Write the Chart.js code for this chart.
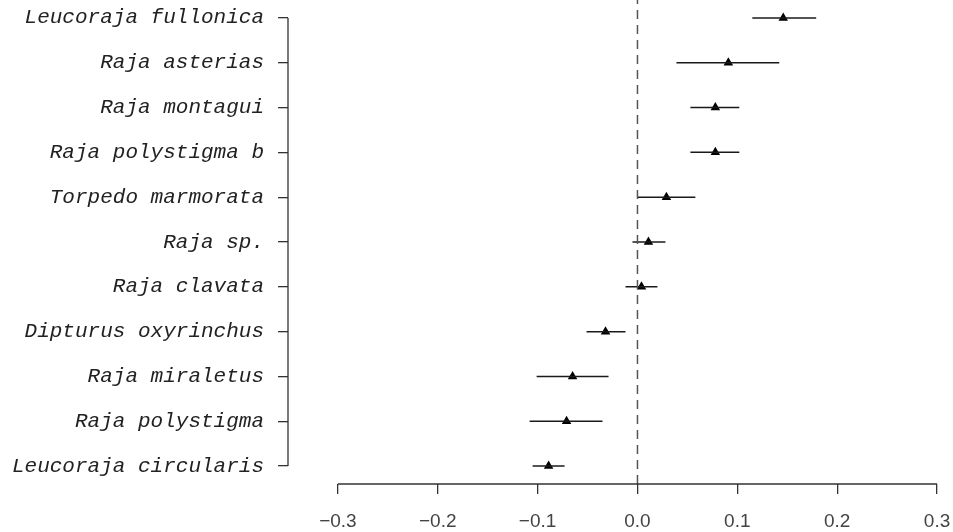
<!DOCTYPE html>
<html>
<head>
<meta charset="utf-8">
<script src="https://cdn.jsdelivr.net/npm/chart.js@4"></script>
<style>
  html, body { margin: 0; padding: 0; background: #fff; }
  #wrap { width: 953px; height: 532px; }
</style>
</head>
<body>
<div id="wrap"><canvas id="chart" width="953" height="532"></canvas></div>
<script>
// species, top to bottom
const species = [
    "Leucoraja fullonica",
    "Raja asterias",
    "Raja montagui",
    "Raja polystigma b",
    "Torpedo marmorata",
    "Raja sp.",
    "Raja clavata",
    "Dipturus oxyrinchus",
    "Raja miraletus",
    "Raja polystigma",
    "Leucoraja circularis",
];
const estimate = [0.146, 0.091, 0.078, 0.078, 0.029, 0.011, 0.004, -0.032, -0.065, -0.071, -0.089];
const lower = [0.115, 0.039, 0.053, 0.053, 0.000, -0.005, -0.012, -0.051, -0.101, -0.108, -0.105];
const upper = [0.179, 0.142, 0.102, 0.102, 0.058, 0.028, 0.020, -0.012, -0.029, -0.035, -0.073];
const xTicks = [-0.3, -0.2, -0.1, 0.0, 0.1, 0.2, 0.3];
const refLine = 0;

const n = species.length;
// first species sits at the top of the plot
const yPos = species.map((s, i) => n - i);

// whiskers, one small dataset per species
const whiskers = species.map((s, i) => ({
    type: "scatter",
    data: [
        { x: lower[i], y: yPos[i] },
        { x: upper[i], y: yPos[i] },
    ],
    showLine: true,
    borderColor: "#1a1a1a",
    borderWidth: 1.5,
    pointRadius: 0,
}));

// R style axes: the line only covers the tick range
const rAxes = {
    id: "rAxes",
    afterDraw(chart) {
        const { ctx, chartArea, scales } = chart;
        ctx.save();
        ctx.strokeStyle = "#333";
        ctx.lineWidth = 1.3;
        ctx.beginPath();
        ctx.moveTo(chartArea.left, scales.y.getPixelForValue(1));
        ctx.lineTo(chartArea.left, scales.y.getPixelForValue(n));
        ctx.moveTo(scales.x.getPixelForValue(xTicks[0]), chartArea.bottom);
        ctx.lineTo(scales.x.getPixelForValue(xTicks[xTicks.length - 1]), chartArea.bottom);
        ctx.stroke();
        ctx.restore();
    },
};

const minus = (v) => v.toFixed(1).replace("-", "\u2212");

new Chart(document.getElementById("chart"), {
    type: "scatter",
    data: {
        datasets: [
            {
                // dashed zero line
                type: "scatter",
                data: [
                    { x: refLine, y: 0.6 },
                    { x: refLine, y: 11.4 },
                ],
                showLine: true,
                borderColor: "#555",
                borderWidth: 1.5,
                borderDash: [9, 6],
                pointRadius: 0,
            },
            ...whiskers,
            {
                type: "scatter",
                data: estimate.map((v, i) => ({ x: v, y: yPos[i] })),
                pointStyle: "triangle",
                pointRadius: 5.5,
                backgroundColor: "#000",
                borderColor: "#000",
                borderWidth: 0,
            },
        ],
    },
    options: {
        responsive: false,
        devicePixelRatio: 1,
        animation: false,
        layout: { padding: 0, autoPadding: false },
        plugins: {
            legend: { display: false },
            tooltip: { enabled: false },
        },
        scales: {
            x: {
                type: "linear",
                min: -0.35,
                max: 0.316,
                afterBuildTicks: (scale) => {
                    scale.ticks = xTicks.map((v) => ({ value: v }));
                },
                afterFit: (scale) => {
                    scale.height = 48;
                    scale.paddingLeft = 0;
                    scale.paddingRight = 0;
                },
                grid: {
                    drawOnChartArea: false,
                    drawTicks: true,
                    tickLength: 10,
                    color: "#333",
                    lineWidth: 1.3,
                },
                border: { display: false },
                ticks: {
                    autoSkip: false,
                    maxRotation: 0,
                    padding: 16,
                    color: "#444",
                    font: { family: "'Liberation Sans', Arial, sans-serif", size: 19 },
                    callback: (v) => minus(v),
                },
            },
            y: {
                type: "linear",
                min: 0.6,
                max: 11.4,
                afterBuildTicks: (scale) => {
                    scale.ticks = yPos.map((v) => ({ value: v }));
                },
                afterFit: (scale) => {
                    scale.width = 288;
                    scale.paddingTop = 0;
                    scale.paddingBottom = 0;
                },
                grid: {
                    drawOnChartArea: false,
                    drawTicks: true,
                    tickLength: 10,
                    color: "#333",
                    lineWidth: 1.3,
                },
                border: { display: false },
                ticks: {
                    autoSkip: false,
                    padding: 14,
                    color: "#222",
                    font: { family: "'Liberation Mono', 'Courier New', monospace", size: 21, style: "italic" },
                    callback: (v) => species[n - v],
                },
            },
        },
    },
    plugins: [rAxes],
});
</script>
</body>
</html>
